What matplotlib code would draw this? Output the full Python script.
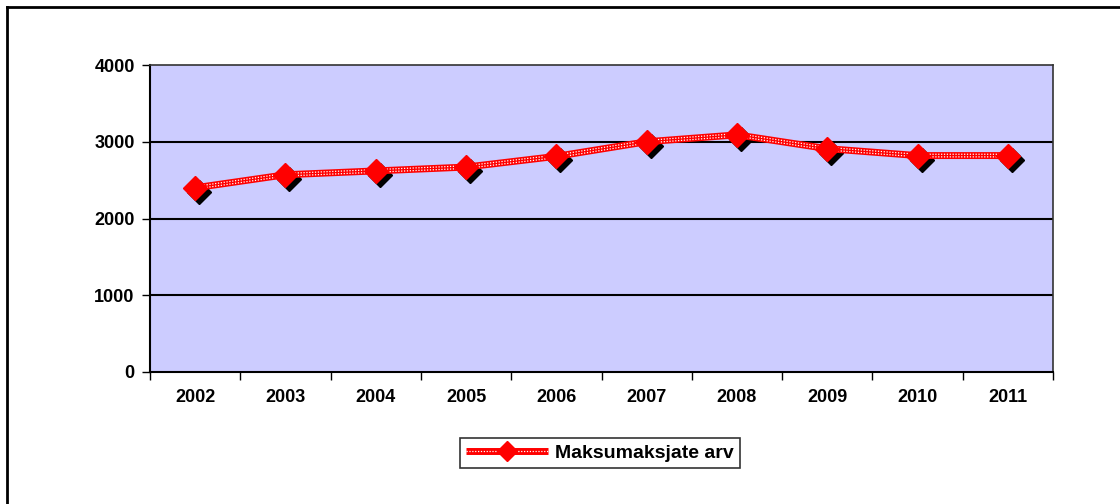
import matplotlib
matplotlib.use("Agg")
import matplotlib.pyplot as plt
import matplotlib.transforms as mtransforms
from matplotlib.lines import Line2D
from matplotlib.legend_handler import HandlerTuple

years = ["2002", "2003", "2004", "2005", "2006", "2007", "2008", "2009", "2010", "2011"]
payers = [2400, 2570, 2620, 2670, 2810, 3000, 3090, 2910, 2820, 2820]
y_ticks = [0, 1000, 2000, 3000, 4000]
series_name = "Maksumaksjate arv"

plt.rcParams['font.family'] = ['Liberation Sans', 'DejaVu Sans']
plt.rcParams['font.weight'] = 'bold'

fig = plt.figure(figsize=(11.2, 5.04), dpi=100)
fig.patch.set_facecolor("white")

# outer frame (only left and top edges visible in the crop)
fig.add_artist(Line2D([7/1120, 7/1120], [0, 1 - 7/504], transform=fig.transFigure,
                      color="black", lw=2))
fig.add_artist(Line2D([7/1120, 1], [1 - 7/504, 1 - 7/504], transform=fig.transFigure,
                      color="black", lw=2))

ax = fig.add_axes([150/1120, 1 - 372/504, 903/1120, 307/504])
ax.set_facecolor("#CCCCFF")

x = list(range(len(years)))
ax.set_xlim(-0.5, len(years) - 0.5)
ax.set_ylim(0, 4000)

for v in y_ticks[1:-1]:
    ax.axhline(v, color="black", lw=1.5, zorder=1)

# shadow of the markers
shadow = mtransforms.offset_copy(ax.transData, fig=fig, x=4, y=-4, units="dots")
ax.plot(x, payers, linestyle="none", marker="D", markersize=12, color="black",
        transform=shadow, zorder=2)
l_red, = ax.plot(x, payers, color="red", lw=5, solid_capstyle="butt", zorder=3)
# two rows of white dots inside the red band
up = mtransforms.offset_copy(ax.transData, fig=fig, x=0, y=1.3, units="dots")
dn = mtransforms.offset_copy(ax.transData, fig=fig, x=0, y=-1.3, units="dots")
l_dot, = ax.plot(x, payers, color="white", lw=0.9, dashes=(1, 1.3),
                 transform=up, zorder=4)
ax.plot(x, payers, color="white", lw=0.9, dashes=(1, 1.3), transform=dn, zorder=4)
l_mk, = ax.plot(x, payers, linestyle="none", marker="D", markersize=12,
                color="red", zorder=5)

ax.set_yticks(y_ticks)
ax.set_yticklabels([str(v) for v in y_ticks], fontsize=13, fontweight="bold")
ax.set_xticks(x)
ax.set_xticklabels(years, fontsize=13, fontweight="bold")
ax.set_xticks([i - 0.5 for i in range(len(years) + 1)], minor=True)
ax.tick_params(axis="x", which="major", length=0, pad=12)
ax.tick_params(axis="x", which="minor", length=6, width=1, direction="out")
ax.tick_params(axis="y", length=6, width=1, direction="out", pad=5)

for side in ["left", "bottom"]:
    ax.spines[side].set_linewidth(1.5)
    ax.spines[side].set_color("black")
for side in ["top", "right"]:
    ax.spines[side].set_linewidth(1.2)
    ax.spines[side].set_color("#333333")

leg_red = Line2D([], [], color="red", lw=5, solid_capstyle="butt")
leg_dot = Line2D([], [], color="white", lw=0.9, dashes=(1, 1.3))
leg_mk = Line2D([], [], linestyle="none", marker="D", markersize=10, color="red")
leg = fig.legend([(leg_red, leg_dot, leg_mk)], [series_name], loc="center",
                 bbox_to_anchor=(600/1120, 1 - 453/504), frameon=True,
                 fancybox=False, handlelength=4.2, fontsize=14,
                 handler_map={tuple: HandlerTuple(ndivide=1)},
                 borderpad=0.3, handletextpad=0.4)
leg.get_frame().set_edgecolor("black")
leg.get_frame().set_linewidth(1.2)
for t in leg.get_texts():
    t.set_fontweight("bold")

fig.savefig("out.png", dpi=100)
